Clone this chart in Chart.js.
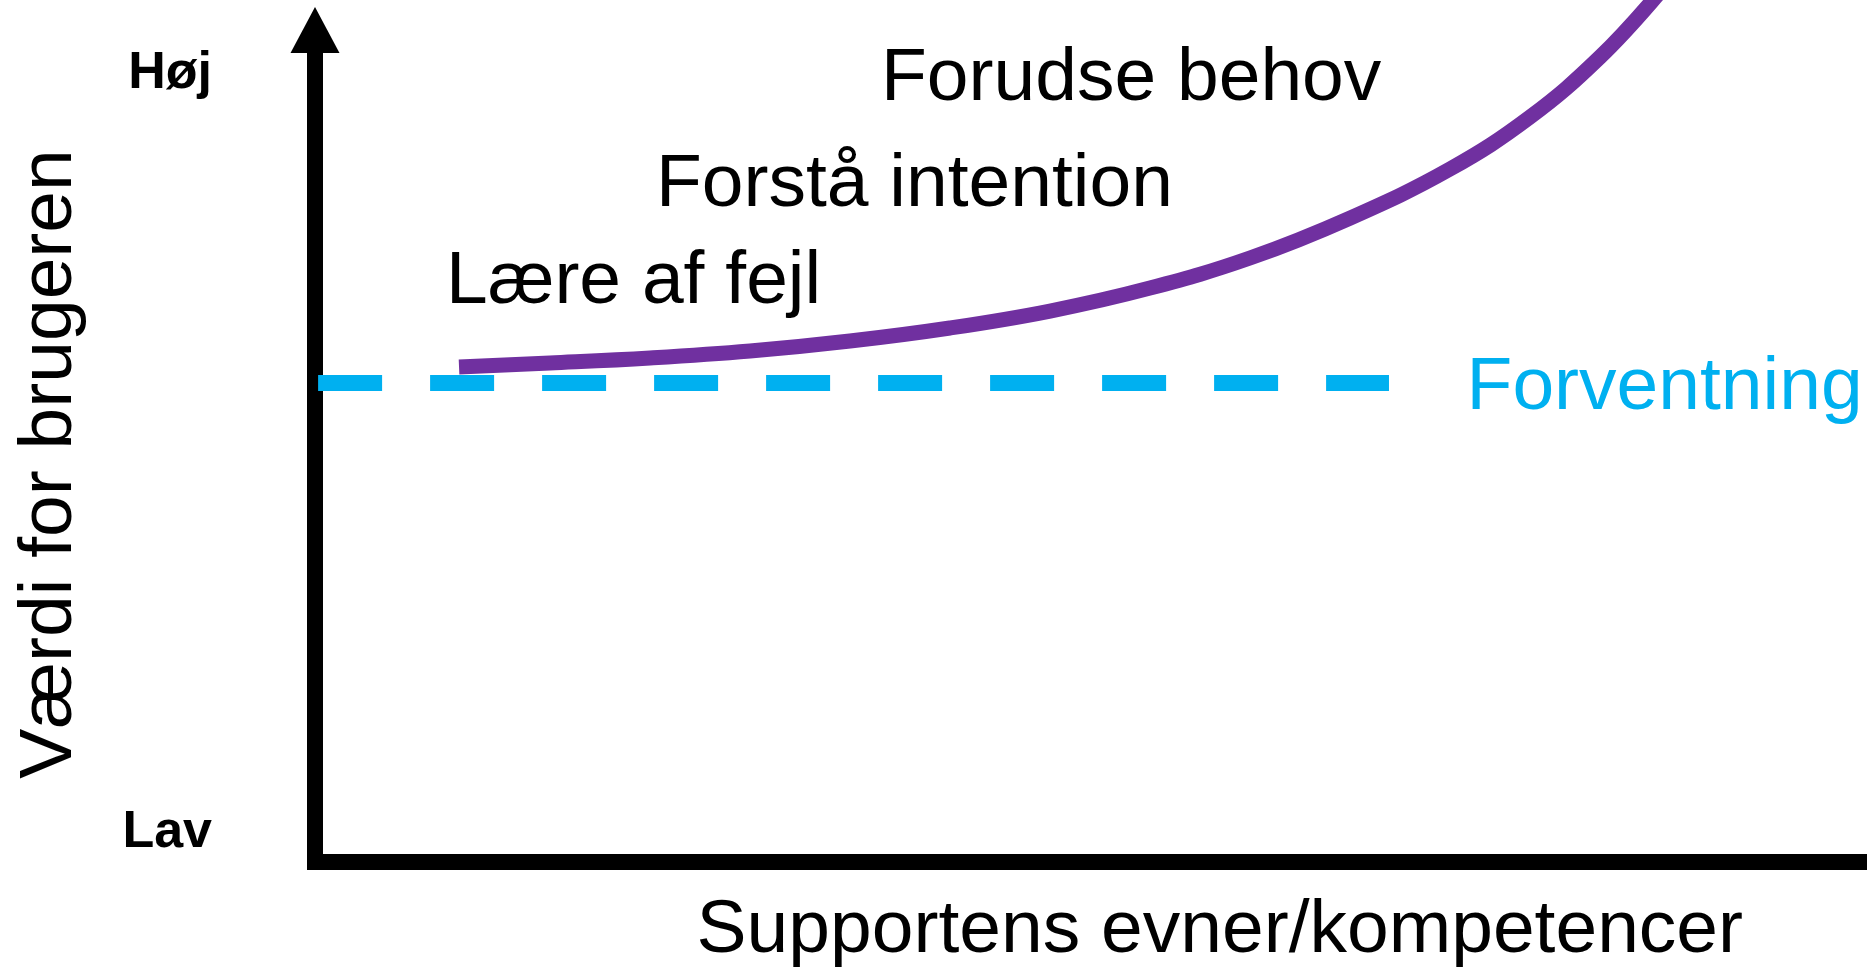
<!DOCTYPE html>
<html>
<head>
<meta charset="utf-8">
<script src="https://cdn.jsdelivr.net/npm/chart.js@4.4.1/dist/chart.umd.min.js"></script>
<style>
html,body{margin:0;padding:0;background:#fff;overflow:hidden}
#wrap{width:1867px;height:967px;position:relative}
</style>
</head>
<body>
<div id="wrap"><canvas id="c"></canvas></div>
<script>
const FONT = '"Liberation Sans", Arial, sans-serif';

// ---- data ----
const curveX = [9.28, 15.14, 21.59, 28.03, 34.47, 40.91, 47.36, 53.80, 60.24, 66.69, 73.13, 78.29, 82.80, 86.66, 90.53];
const curveY = [61.19, 61.68, 62.30, 63.16, 64.40, 66.01, 68.11, 70.95, 74.66, 79.60, 85.66, 92.09, 99.51, 107.54, 116.56];
const expectX = [0.2, 69.2];
const expectY = [59.2, 59.2];
const yTickValues = [3.6, 97.5];
const yTickLabels = ['Lav', 'Høj'];
const stageLabels = ['Lære af fejl', 'Forstå intention', 'Forudse behov'];
const stageX = [8.44, 21.97, 36.47];
const stageY = [69.1, 81.1, 94.2];
const expectLabel = 'Forventning';
const expectLabelX = [74.2];
const expectLabelY = [56.0];
const xTitle = 'Supportens evner/kompetencer';
const yTitle = 'Værdi for brugeren';

const decor = {
  id: 'decor',
  afterDraw(chart) {
    const {ctx, chartArea} = chart;
    const x = chart.scales.x, y = chart.scales.y;
    ctx.save();
    // arrow head (and its stem) on the value axis
    const ax = chartArea.left, top = chartArea.top;
    ctx.fillStyle = '#000';
    ctx.fillRect(ax - 8, top - 14, 16, 14);
    ctx.beginPath();
    ctx.moveTo(ax, top - 59);
    ctx.lineTo(ax + 24.5, top - 13);
    ctx.lineTo(ax - 24.5, top - 13);
    ctx.closePath();
    ctx.fill();
    // stage labels
    ctx.font = '75px ' + FONT;
    ctx.textAlign = 'left';
    ctx.textBaseline = 'alphabetic';
    ctx.fillStyle = '#000';
    stageLabels.forEach((t, i) => ctx.fillText(t, x.getPixelForValue(stageX[i]), y.getPixelForValue(stageY[i])));
    ctx.fillStyle = '#00B0F0';
    ctx.fillText(expectLabel, x.getPixelForValue(expectLabelX[0]), y.getPixelForValue(expectLabelY[0]));
    // x axis title
    ctx.fillStyle = '#000';
    ctx.textAlign = 'center';
    ctx.fillText(xTitle, x.left + 0.583 * x.width, chartArea.bottom + 90);
    ctx.restore();
  }
};

new Chart(document.getElementById('c'), {
  type: 'line',
  data: {
    datasets: [
      {
        label: 'Værdi',
        data: curveX.map((v, i) => ({x: v, y: curveY[i]})),
        borderColor: '#7030A0',
        borderWidth: 15,
        borderCapStyle: 'butt',
        pointRadius: 0,
        tension: 0.4,
        clip: false,
        fill: false
      },
      {
        label: expectLabel,
        data: expectX.map((v, i) => ({x: v, y: expectY[i]})),
        borderColor: '#00B0F0',
        borderWidth: 16,
        borderDash: [64, 48],
        borderCapStyle: 'butt',
        pointRadius: 0,
        clip: false,
        fill: false
      }
    ]
  },
  options: {
    responsive: true,
    maintainAspectRatio: false,
    animation: false,
    layout: {padding: {top: 66, left: 0, right: 0, bottom: 0}},
    plugins: {legend: {display: false}, tooltip: {enabled: false}},
    scales: {
      x: {
        type: 'linear', min: 0, max: 100,
        grid: {display: false, drawTicks: false},
        ticks: {display: false},
        border: {display: true, color: '#000', width: 16},
        afterFit(s) { s.height = 105; s.paddingLeft = 0; s.paddingRight = 0; }
      },
      y: {
        type: 'linear', min: 0, max: 98.4,
        grid: {display: false, drawTicks: false},
        border: {display: true, color: '#000', width: 16},
        afterBuildTicks(s) { s.ticks = yTickValues.map(v => ({value: v})); },
        ticks: {
          padding: 103, color: '#000', autoSkip: false,
          font: {family: FONT, size: 52, weight: 'bold'},
          callback: (v, i) => yTickLabels[i]
        },
        title: {
          display: true, text: yTitle, color: '#000',
          font: {family: FONT, size: 75}, padding: {top: 5, bottom: 0}
        },
        afterFit(s) { s.width = 315; s.paddingTop = 0; s.paddingBottom = 0; }
      }
    }
  },
  plugins: [decor]
});
</script>
</body>
</html>
